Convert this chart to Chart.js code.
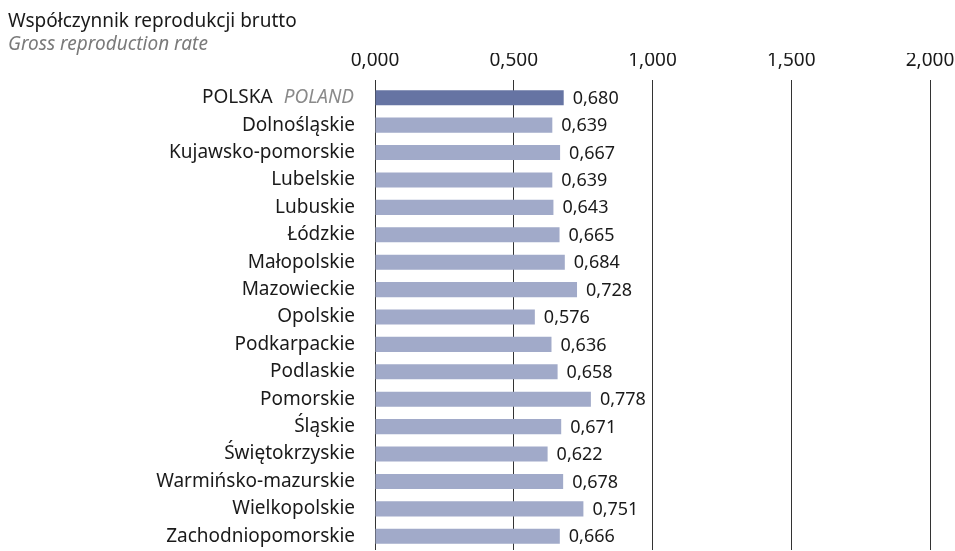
<!DOCTYPE html>
<html>
<head>
<meta charset="utf-8">
<script src="https://cdn.jsdelivr.net/npm/chart.js@4/dist/chart.umd.min.js"></script>
<style>
  html, body { margin: 0; padding: 0; background: #fff; }
  #wrap { width: 955px; height: 551px; }
</style>
</head>
<body>
<div id="wrap"><canvas id="myChart" width="955" height="551"></canvas></div>
<script>
// data
var regions = ['POLSKA', 'Dolnośląskie', 'Kujawsko-pomorskie', 'Lubelskie', 'Lubuskie', 'Łódzkie',
    'Małopolskie', 'Mazowieckie', 'Opolskie', 'Podkarpackie', 'Podlaskie', 'Pomorskie',
    'Śląskie', 'Świętokrzyskie', 'Warmińsko-mazurskie', 'Wielkopolskie', 'Zachodniopomorskie'];
var rates = [0.680, 0.639, 0.667, 0.639, 0.643, 0.665, 0.684, 0.728, 0.576, 0.636, 0.658,
    0.778, 0.671, 0.622, 0.678, 0.751, 0.666];
var xTicks = [0, 0.5, 1, 1.5, 2];

var FONT = '"Noto Sans", sans-serif';

function fmt(v) {
    return v.toFixed(3).replace('.', ',');
}

// titles + POLSKA/POLAND label
var extras = {
    id: 'extras',
    afterDraw: function (chart) {
        var ctx = chart.ctx;
        ctx.save();
        ctx.textBaseline = 'alphabetic';
        ctx.textAlign = 'left';
        ctx.fillStyle = '#1a1a1a';
        ctx.font = '19px ' + FONT;
        ctx.fillText('Współczynnik reprodukcji brutto', 8, 27);
        ctx.fillStyle = '#7a7a7a';
        ctx.font = 'italic 19px ' + FONT;
        ctx.fillText('Gross reproduction rate', 8, 50);

        var y = chart.scales.y.getPixelForValue(0);
        ctx.textBaseline = 'middle';
        ctx.textAlign = 'right';
        ctx.font = 'italic 19px ' + FONT;
        ctx.fillStyle = '#8a8a8a';
        var right = 354;
        ctx.fillText('POLAND', right, y);
        var w = ctx.measureText('POLAND').width;
        ctx.font = '19px ' + FONT;
        ctx.fillStyle = '#1a1a1a';
        ctx.fillText('POLSKA', right - w - 11, y);
        ctx.restore();
    }
};

// value next to each bar
var valueLabels = {
    id: 'valueLabels',
    afterDatasetsDraw: function (chart) {
        var ctx = chart.ctx;
        var meta = chart.getDatasetMeta(0);
        ctx.save();
        ctx.font = '18px ' + FONT;
        ctx.fillStyle = '#1a1a1a';
        ctx.textAlign = 'left';
        ctx.textBaseline = 'middle';
        meta.data.forEach(function (bar, i) {
            ctx.fillText(fmt(rates[i]), bar.x + 9, bar.y + 1);
        });
        ctx.restore();
    }
};

var ctx = document.getElementById('myChart').getContext('2d');
var chart = new Chart(ctx, {
    type: 'bar',
    data: {
        labels: regions,
        datasets: [{
            data: rates,
            backgroundColor: rates.map(function (v, i) { return i === 0 ? '#6674a3' : '#a1aac9'; }),
            borderWidth: 0,
            categoryPercentage: 1,
            barPercentage: 0.55
        }]
    },
    options: {
        indexAxis: 'y',
        responsive: false,
        animation: false,
        devicePixelRatio: 1,
        layout: { padding: { left: 0, right: 25, top: 53, bottom: 1 } },
        plugins: {
            legend: { display: false },
            tooltip: { enabled: false }
        },
        scales: {
            x: {
                position: 'top',
                min: 0,
                max: 2,
                afterBuildTicks: function (scale) {
                    scale.ticks = xTicks.map(function (v) { return { value: v }; });
                },
                afterFit: function (scale) {
                    scale.height = 31;
                    scale.paddingLeft = 0;
                    scale.paddingRight = 0;
                },
                grid: { color: '#333333', lineWidth: 1, drawTicks: true, tickLength: 4 },
                border: { display: false },
                ticks: {
                    padding: 8,
                    color: '#1a1a1a',
                    font: { family: FONT, size: 19 },
                    callback: function (v) { return fmt(v); }
                }
            },
            y: {
                afterFit: function (scale) {
                    scale.width = 375;
                    scale.paddingTop = 0;
                    scale.paddingBottom = 0;
                },
                grid: { display: false, drawTicks: false },
                border: { display: false },
                ticks: {
                    padding: 20,
                    color: '#1a1a1a',
                    font: { family: FONT, size: 19 },
                    callback: function (v, i) { return i === 0 ? '' : regions[i]; }
                }
            }
        }
    },
    plugins: [extras, valueLabels]
});
</script>
</body>
</html>
